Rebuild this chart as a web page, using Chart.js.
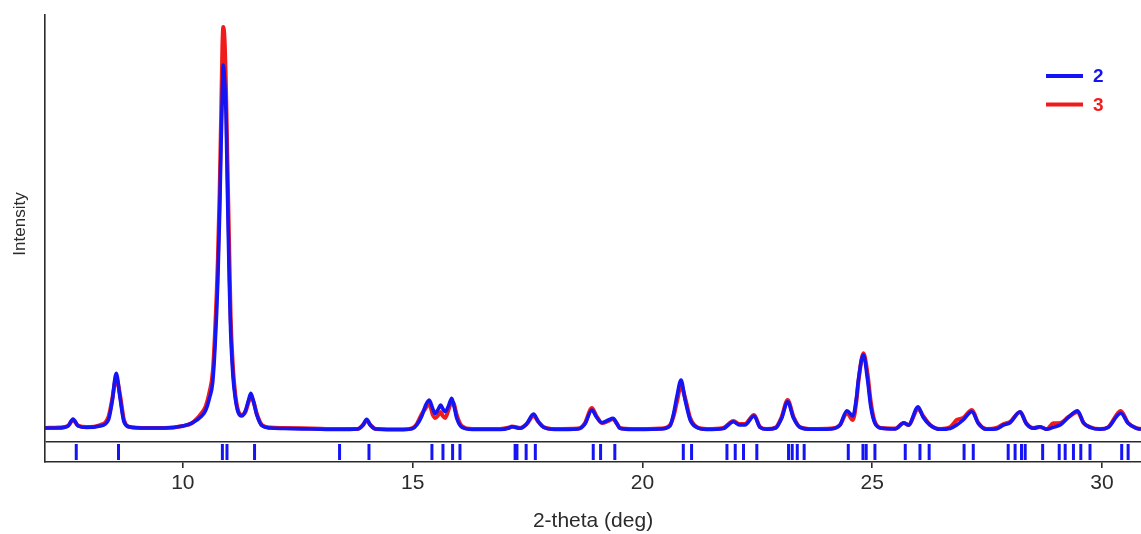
<!DOCTYPE html>
<html>
<head>
<meta charset="utf-8">
<title>PXRD 2 vs 3</title>
<script src="https://cdn.jsdelivr.net/npm/chart.js@4.4.1/dist/chart.umd.min.js"></script>
<style>
  html, body { margin: 0; padding: 0; background: #fff; }
  canvas { display: block; }
</style>
</head>
<body>
<canvas id="xrdChart" width="1141" height="534"></canvas>
<script>
const twoTheta = [
  7.00, 7.30, 7.50, 7.61, 7.72, 7.90, 8.20, 8.38, 8.46, 8.55, 8.63, 8.72, 8.85, 9.20, 9.60,
  10.00, 10.20, 10.41, 10.50, 10.58, 10.65, 10.70, 10.76, 10.80, 10.83, 10.86, 10.88, 10.91, 10.94, 10.97,
  11.01, 11.04, 11.09, 11.14, 11.20, 11.28, 11.36, 11.43, 11.48, 11.54, 11.61, 11.72, 11.90,
  12.20, 12.80, 13.40, 13.80, 13.92, 14.00, 14.08, 14.20, 14.80,
  15.00, 15.09, 15.20, 15.27, 15.36, 15.44, 15.49, 15.56, 15.61, 15.66, 15.71, 15.78, 15.85, 15.90, 15.96,
  16.07, 16.30, 16.90, 17.10, 17.16, 17.34, 17.48, 17.63, 17.74, 17.85,
  18.10, 18.60, 18.75, 18.90, 19.00, 19.12, 19.26, 19.36, 19.45, 19.51, 19.80,
  20.40, 20.60, 20.68, 20.75, 20.84, 20.93, 21.04, 21.18, 21.40, 21.76, 21.98,
  22.11, 22.23, 22.43, 22.56, 22.71, 22.90, 23.03, 23.16, 23.29, 23.43, 23.70,
  24.10, 24.30, 24.45, 24.58, 24.66, 24.70, 24.81, 24.90, 24.97, 25.06, 25.21, 25.50,
  25.69, 25.79, 26.00, 26.11, 26.26, 26.48, 26.70, 26.84, 26.98, 27.17, 27.31, 27.49, 27.70,
  27.86, 28.00, 28.22, 28.35, 28.51, 28.65, 28.80, 28.94, 29.09, 29.27, 29.47, 29.60, 29.74, 29.96,
  30.14, 30.41, 30.57, 30.75, 30.85
];

// sample 2 (blue), arbitrary intensity units
const intensity2 = [
  14, 14, 16, 23, 16, 14.5, 16, 22, 40, 68.7, 45, 20, 15, 14, 14,
  16, 19, 26, 32, 44, 60, 95, 160, 227, 294, 350, 377, 360, 327, 250,
  160, 110, 66, 44, 30, 26, 31, 42, 48.7, 40, 27, 16.3, 14,
  13.5, 13, 12.5, 13, 17, 22.7, 17, 13, 12.5,
  13.5, 17, 26, 35.3, 42, 33, 28.7, 33, 37, 33, 30.3, 36, 43.7, 36, 23.7,
  14.7, 12.5, 12.5, 14, 15.3, 13.7, 18, 28, 20, 14.7,
  12.5, 13, 18, 32, 25, 19.3, 22, 23.7, 18, 13.7, 12.5,
  13, 16, 28.7, 45.3, 62, 42, 22, 14.7, 12.5, 13.5, 20.3,
  17, 17, 26, 14.7, 12.7, 14, 23.7, 40.3, 23.7, 14.7, 12.7,
  13, 17, 31.3, 26, 45, 62, 87, 62, 35.3, 18.7, 13.7, 13,
  19.3, 17, 35.3, 24.7, 17, 12.7, 13.5, 17, 22, 30.3, 18.7, 12.7, 13,
  17, 19.3, 30.3, 18.7, 13.7, 15.3, 12.7, 14.7, 17, 24.7, 31.3, 19.3, 14.7, 12.7,
  14.7, 28.7, 18.7, 13.7, 12.7
];

// sample 3 (red)
const intensity3 = [
  14, 14.5, 16, 22, 16.5, 15, 17, 25, 42, 64, 48, 22, 15, 14, 14,
  16, 19, 29, 36, 50, 70, 110, 180, 250, 320, 395, 415, 400, 350, 280,
  190, 125, 75, 48, 32, 27, 30, 40, 46, 40, 28, 17, 14.5,
  14, 13.5, 13, 13, 17, 21.5, 17, 13, 12.5,
  14, 18, 28, 33, 38, 27, 24, 27, 30, 26, 24, 32, 40, 38, 27,
  16, 13, 13, 14.5, 15.5, 14, 18, 26, 20, 15,
  13, 13.5, 19, 34, 26, 19, 21, 23, 18, 14, 13,
  13.5, 17, 26, 40, 56, 44, 24, 15, 13, 14, 21,
  18, 18, 27, 15, 13, 14.5, 25, 42, 25, 15, 13,
  13.5, 17, 29, 22, 42, 60, 88.7, 68, 40, 20, 14, 13.5,
  19, 17, 33, 26, 17, 13, 15, 22, 24, 32, 19, 13, 14,
  18, 20, 30, 19, 14, 15, 13, 18.7, 19, 25, 30, 19, 15, 13,
  15, 31, 19, 14, 13
];

// reflection positions (blue tick marks under the patterns)
const braggPeaks = [
  7.68, 8.60, 10.86, 10.96, 11.56, 13.41, 14.05,
  15.42, 15.66, 15.87, 16.03, 17.23, 17.27, 17.47, 17.67, 18.93, 19.09, 19.40,
  20.89, 21.07, 21.84, 22.02, 22.20, 22.49, 23.18, 23.26, 23.37, 23.52,
  24.48, 24.80, 24.87, 25.06, 25.72, 26.04, 26.24, 27.00, 27.20,
  27.96, 28.11, 28.25, 28.33, 28.71, 29.07, 29.20, 29.38, 29.54, 29.74, 30.43, 30.57
];

const xTicks = [10, 15, 20, 25, 30];
const seriesLabels = ['2', '3'];

const blue = '#1414f5';
const red = '#f01c1c';
const axisColor = '#2b2b2b';
const fontFamily = '"Liberation Sans", Arial, sans-serif';

const toPoints = (ys) => twoTheta.map((t, i) => ({ x: t, y: ys[i] }));

// legend + y title drawn inside the plot like the original
const overlay = {
  id: 'overlay',
  afterDraw(chart) {
    const ctx = chart.ctx;
    ctx.save();
    ctx.fillStyle = axisColor;
    ctx.font = '17px ' + fontFamily;
    ctx.textAlign = 'center';
    ctx.textBaseline = 'alphabetic';
    ctx.translate(24.5, 224);
    ctx.rotate(-Math.PI / 2);
    ctx.fillText('Intensity', 0, 0);
    ctx.restore();

    ctx.save();
    chart.data.datasets.slice(0, 2).forEach((ds, i) => {
      const y = 76 + i * 28.6;
      ctx.strokeStyle = ds.borderColor;
      ctx.lineWidth = 4;
      ctx.beginPath();
      ctx.moveTo(1046, y);
      ctx.lineTo(1083, y);
      ctx.stroke();
      ctx.fillStyle = ds.borderColor;
      ctx.font = 'bold 19px ' + fontFamily;
      ctx.textAlign = 'left';
      ctx.textBaseline = 'middle';
      ctx.fillText(ds.label, 1093, y + 1);
    });
    ctx.restore();
  }
};

const ctx = document.getElementById('xrdChart').getContext('2d');
new Chart(ctx, {
  type: 'line',
  data: {
    datasets: [
      {
        label: seriesLabels[0],
        data: toPoints(intensity2),
        borderColor: blue,
        borderWidth: 3.6,
        pointRadius: 0,
        cubicInterpolationMode: 'monotone',
        order: 1
      },
      {
        label: seriesLabels[1],
        data: toPoints(intensity3),
        borderColor: red,
        borderWidth: 4,
        pointRadius: 0,
        cubicInterpolationMode: 'monotone',
        order: 2
      },
      {
        label: 'reflections',
        data: braggPeaks.map(t => ({ x: t, y: -10 })),
        showLine: false,
        pointStyle: 'line',
        rotation: 90,
        pointRadius: 8,
        borderColor: blue,
        borderWidth: 3,
        order: 3
      }
    ]
  },
  options: {
    responsive: false,
    animation: false,
    layout: { autoPadding: false, padding: { top: 15, right: 0, left: 0, bottom: 0 } },
    plugins: {
      legend: { display: false },
      tooltip: { enabled: false }
    },
    scales: {
      x: {
        type: 'linear',
        min: 7,
        max: 30.85,
        afterBuildTicks: (axis) => { axis.ticks = xTicks.map(v => ({ value: v })); },
        afterFit: (axis) => {
          axis.height = 72;
          axis.paddingLeft = 0;
          axis.paddingRight = 0;
        },
        border: { display: true, color: axisColor, width: 1.6 },
        grid: { drawOnChartArea: false, drawTicks: true, tickLength: 6, color: axisColor, lineWidth: 1.6 },
        ticks: { color: axisColor, font: { family: fontFamily, size: 21 }, padding: 3, maxRotation: 0 },
        title: {
          display: true,
          text: '2-theta (deg)',
          color: axisColor,
          font: { family: fontFamily, size: 21 },
          padding: { top: 0, bottom: 0 }
        }
      },
      y: {
        type: 'linear',
        min: -20,
        max: 427,
        afterBuildTicks: (axis) => { axis.ticks = [{ value: 0 }]; },
        afterFit: (axis) => { axis.width = 45; },
        border: { display: true, color: axisColor, width: 1.6 },
        grid: { drawTicks: false, color: axisColor, lineWidth: 1.6 },
        ticks: { display: false }
      }
    }
  },
  plugins: [overlay]
});
</script>
</body>
</html>
